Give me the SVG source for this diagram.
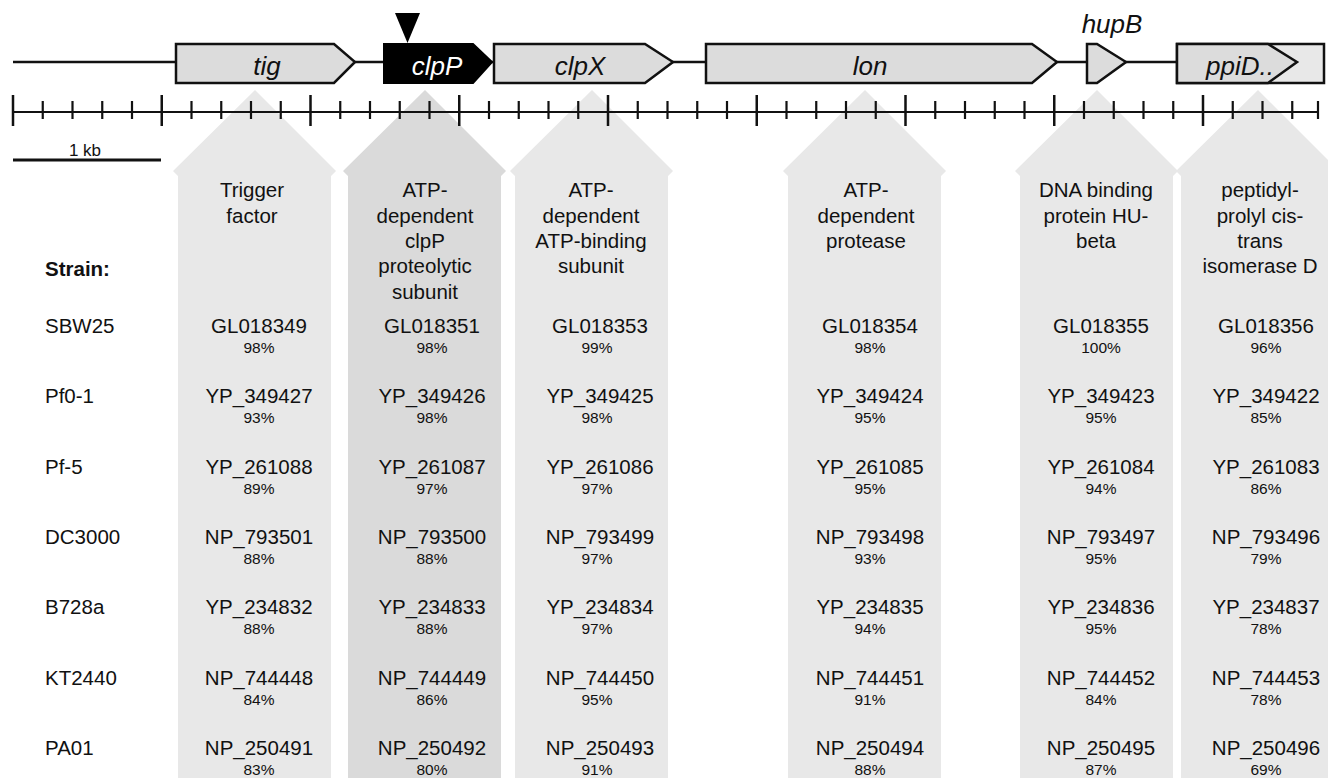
<svg xmlns="http://www.w3.org/2000/svg" width="1328" height="778" viewBox="0 0 1328 778">
<defs>
<style>
text{font-family:"Liberation Sans",Arial,sans-serif;fill:#111}
.col{fill:#e8e8e8}
.colD{fill:#dadada}
.gene{fill:#dcdcdc;stroke:#111;stroke-width:2.5;stroke-linejoin:miter}
.gl{font-size:26px;font-style:italic;text-anchor:middle}
.hd{font-size:20.5px;text-anchor:middle}
.id{font-size:20.5px;text-anchor:middle}
.pc{font-size:15.5px;text-anchor:middle}
.rl{font-size:20.5px}
.ln{stroke:#111;fill:none}
</style>
</defs>
<rect width="1328" height="778" fill="#fff"/>
<!-- product columns -->
<g id="col-tig"><polygon class="col" points="255,90 336,171 331,176 331,778 178,778 178,176 173,171"/></g>
<g id="col-clpP"><polygon class="colD" points="425,90 506,171 501,176 501,778 348,778 348,176 343,171"/></g>
<g id="col-clpX"><polygon class="col" points="592,90 673,171 668,176 668,778 515,778 515,176 510,171"/></g>
<g id="col-lon"><polygon class="col" points="865,90 946,171 941,176 941,778 788,778 788,176 783,171"/></g>
<g id="col-hupB"><polygon class="col" points="1097,90 1178,171 1173,176 1173,778 1020,778 1020,176 1015,171"/></g>
<g id="col-ppiD"><polygon class="col" points="1258,90 1339,171 1334,176 1334,778 1181,778 1181,176 1176,171"/></g>
<!-- scale axis -->
<g id="axis">
<path class="ln" stroke-width="2.2" d="M13 112H1318"/>
<path class="ln" stroke-width="2.5" d="M13 95V126M161.75 95V126M310.5 95V126M459.25 95V126M608 95V126M756.75 95V126M905.5 95V126M1054.25 95V126M1203 95V126"/>
<path class="ln" stroke-width="2.2" d="M42.75 101V119M72.5 101V119M102.25 101V119M132 101V119M191.5 101V119M221.25 101V119M251 101V119M280.75 101V119M340.25 101V119M370 101V119M399.75 101V119M429.5 101V119M489 101V119M518.75 101V119M548.5 101V119M578.25 101V119M637.75 101V119M667.5 101V119M697.25 101V119M727 101V119M786.5 101V119M816.25 101V119M846 101V119M875.75 101V119M935.25 101V119M965 101V119M994.75 101V119M1024.5 101V119M1084 101V119M1113.75 101V119M1143.5 101V119M1173.25 101V119M1232.75 101V119M1262.5 101V119M1292.25 101V119M1318 101V119"/>
</g>
<g id="scalebar">
<path class="ln" stroke-width="3" d="M13 160H161"/>
<text x="85" y="156" font-size="17" text-anchor="middle">1 kb</text>
</g>
<!-- backbone connectors -->
<g id="connectors">
<path class="ln" stroke-width="2.5" d="M13 62H1177"/>
</g>
<!-- genes -->
<g id="gene-tig"><path class="gene" d="M176 44H334L355 62L334 83H176Z"/><text class="gl" x="267" y="75">tig</text></g>
<g id="gene-clpP"><path d="M384 44H473L492 62L473 83H384Z" fill="#000" stroke="#000" stroke-width="2"/><text class="gl" x="437" y="75" style="fill:#fff">clpP</text>
<path d="M395 13H420L407.5 43Z" fill="#000"/></g>
<g id="gene-clpX"><path class="gene" d="M494 44H645L673 62L645 83H494Z"/><text class="gl" x="580" y="75">clpX</text></g>
<g id="gene-lon"><path class="gene" d="M706 44H1032L1057 62L1032 83H706Z"/><text class="gl" x="870" y="75">lon</text></g>
<g id="gene-hupB"><path class="gene" d="M1087 44H1097L1126 62L1097 83H1087Z"/><text class="gl" x="1112" y="33">hupB</text></g>
<g id="gene-ppiD"><rect x="1177" y="44" width="147" height="39" fill="#e8e8e8" stroke="#111" stroke-width="2.5"/><path class="gene" d="M1177 44H1268L1297 62L1268 83H1177Z"/><text class="gl" x="1240" y="75">ppiD..</text></g>
<!-- headers -->
<g id="headers">
<text class="rl" x="45" y="276" font-weight="bold">Strain:</text>
<text class="hd" x="252"><tspan x="252" y="197">Trigger</tspan><tspan x="252" y="222.5">factor</tspan></text>
<text class="hd" x="425"><tspan x="425" y="197">ATP-</tspan><tspan x="425" y="222.5">dependent</tspan><tspan x="425" y="248">clpP</tspan><tspan x="425" y="273">proteolytic</tspan><tspan x="425" y="298.5">subunit</tspan></text>
<text class="hd" x="591"><tspan x="591" y="197">ATP-</tspan><tspan x="591" y="222.5">dependent</tspan><tspan x="591" y="248">ATP-binding</tspan><tspan x="591" y="273">subunit</tspan></text>
<text class="hd" x="866"><tspan x="866" y="197">ATP-</tspan><tspan x="866" y="222.5">dependent</tspan><tspan x="866" y="248">protease</tspan></text>
<text class="hd" x="1096"><tspan x="1096" y="197">DNA binding</tspan><tspan x="1096" y="222.5">protein HU-</tspan><tspan x="1096" y="248">beta</tspan></text>
<text class="hd" x="1260"><tspan x="1260" y="197">peptidyl-</tspan><tspan x="1260" y="222.5">prolyl cis-</tspan><tspan x="1260" y="248">trans</tspan><tspan x="1260" y="273">isomerase D</tspan></text>
</g>
<!-- rows -->
<g id="row-SBW25">
<text class="rl" x="45" y="333">SBW25</text>
<text class="id" x="259" y="333">GL018349</text><text class="pc" x="259" y="353">98%</text>
<text class="id" x="432" y="333">GL018351</text><text class="pc" x="432" y="353">98%</text>
<text class="id" x="600" y="333">GL018353</text><text class="pc" x="597" y="353">99%</text>
<text class="id" x="870" y="333">GL018354</text><text class="pc" x="870" y="353">98%</text>
<text class="id" x="1101" y="333">GL018355</text><text class="pc" x="1101" y="353">100%</text>
<text class="id" x="1266" y="333">GL018356</text><text class="pc" x="1266" y="353">96%</text>
</g>
<g id="row-Pf0-1">
<text class="rl" x="45" y="403.3">Pf0-1</text>
<text class="id" x="259" y="403.3">YP_349427</text><text class="pc" x="259" y="423.3">93%</text>
<text class="id" x="432" y="403.3">YP_349426</text><text class="pc" x="432" y="423.3">98%</text>
<text class="id" x="600" y="403.3">YP_349425</text><text class="pc" x="597" y="423.3">98%</text>
<text class="id" x="870" y="403.3">YP_349424</text><text class="pc" x="870" y="423.3">95%</text>
<text class="id" x="1101" y="403.3">YP_349423</text><text class="pc" x="1101" y="423.3">95%</text>
<text class="id" x="1266" y="403.3">YP_349422</text><text class="pc" x="1266" y="423.3">85%</text>
</g>
<g id="row-Pf-5">
<text class="rl" x="45" y="473.7">Pf-5</text>
<text class="id" x="259" y="473.7">YP_261088</text><text class="pc" x="259" y="493.7">89%</text>
<text class="id" x="432" y="473.7">YP_261087</text><text class="pc" x="432" y="493.7">97%</text>
<text class="id" x="600" y="473.7">YP_261086</text><text class="pc" x="597" y="493.7">97%</text>
<text class="id" x="870" y="473.7">YP_261085</text><text class="pc" x="870" y="493.7">95%</text>
<text class="id" x="1101" y="473.7">YP_261084</text><text class="pc" x="1101" y="493.7">94%</text>
<text class="id" x="1266" y="473.7">YP_261083</text><text class="pc" x="1266" y="493.7">86%</text>
</g>
<g id="row-DC3000">
<text class="rl" x="45" y="544">DC3000</text>
<text class="id" x="259" y="544">NP_793501</text><text class="pc" x="259" y="564">88%</text>
<text class="id" x="432" y="544">NP_793500</text><text class="pc" x="432" y="564">88%</text>
<text class="id" x="600" y="544">NP_793499</text><text class="pc" x="597" y="564">97%</text>
<text class="id" x="870" y="544">NP_793498</text><text class="pc" x="870" y="564">93%</text>
<text class="id" x="1101" y="544">NP_793497</text><text class="pc" x="1101" y="564">95%</text>
<text class="id" x="1266" y="544">NP_793496</text><text class="pc" x="1266" y="564">79%</text>
</g>
<g id="row-B728a">
<text class="rl" x="45" y="614.3">B728a</text>
<text class="id" x="259" y="614.3">YP_234832</text><text class="pc" x="259" y="634.3">88%</text>
<text class="id" x="432" y="614.3">YP_234833</text><text class="pc" x="432" y="634.3">88%</text>
<text class="id" x="600" y="614.3">YP_234834</text><text class="pc" x="597" y="634.3">97%</text>
<text class="id" x="870" y="614.3">YP_234835</text><text class="pc" x="870" y="634.3">94%</text>
<text class="id" x="1101" y="614.3">YP_234836</text><text class="pc" x="1101" y="634.3">95%</text>
<text class="id" x="1266" y="614.3">YP_234837</text><text class="pc" x="1266" y="634.3">78%</text>
</g>
<g id="row-KT2440">
<text class="rl" x="45" y="684.7">KT2440</text>
<text class="id" x="259" y="684.7">NP_744448</text><text class="pc" x="259" y="704.7">84%</text>
<text class="id" x="432" y="684.7">NP_744449</text><text class="pc" x="432" y="704.7">86%</text>
<text class="id" x="600" y="684.7">NP_744450</text><text class="pc" x="597" y="704.7">95%</text>
<text class="id" x="870" y="684.7">NP_744451</text><text class="pc" x="870" y="704.7">91%</text>
<text class="id" x="1101" y="684.7">NP_744452</text><text class="pc" x="1101" y="704.7">84%</text>
<text class="id" x="1266" y="684.7">NP_744453</text><text class="pc" x="1266" y="704.7">78%</text>
</g>
<g id="row-PA01">
<text class="rl" x="45" y="755">PA01</text>
<text class="id" x="259" y="755">NP_250491</text><text class="pc" x="259" y="775">83%</text>
<text class="id" x="432" y="755">NP_250492</text><text class="pc" x="432" y="775">80%</text>
<text class="id" x="600" y="755">NP_250493</text><text class="pc" x="597" y="775">91%</text>
<text class="id" x="870" y="755">NP_250494</text><text class="pc" x="870" y="775">88%</text>
<text class="id" x="1101" y="755">NP_250495</text><text class="pc" x="1101" y="775">87%</text>
<text class="id" x="1266" y="755">NP_250496</text><text class="pc" x="1266" y="775">69%</text>
</g>
</svg>
